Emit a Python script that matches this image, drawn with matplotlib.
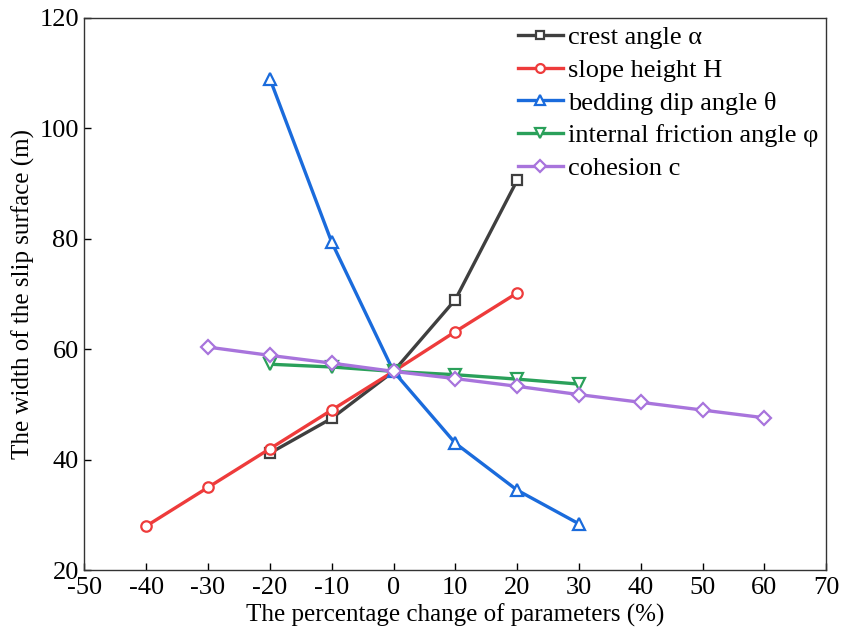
import matplotlib

matplotlib.use("Agg")

import matplotlib.pyplot as plt

# percentage change of each parameter (%)
crest_x = [-20, -10, 0, 10, 20]
crest_y = [41.2, 47.5, 56.0, 69.0, 90.6]

height_x = [-40, -30, -20, -10, 0, 10, 20]
height_y = [28.0, 35.0, 42.0, 49.0, 56.0, 63.2, 70.2]

dip_x = [-20, -10, 0, 10, 20, 30]
dip_y = [109.0, 79.4, 56.0, 43.0, 34.5, 28.4]

friction_x = [-20, -10, 0, 10, 20, 30]
friction_y = [57.3, 56.8, 56.0, 55.4, 54.6, 53.7]

cohesion_x = [-30, -20, -10, 0, 10, 20, 30, 40, 50, 60]
cohesion_y = [60.4, 58.9, 57.5, 56.0, 54.7, 53.3, 51.8, 50.4, 49.0, 47.6]

plt.rcParams["font.family"] = ["Liberation Serif", "DejaVu Serif"]
plt.rcParams["axes.unicode_minus"] = False

fig, ax = plt.subplots(figsize=(8.44, 6.40), dpi=100)
fig.subplots_adjust(left=0.1, right=0.979, top=0.972, bottom=0.109)

style = dict(linewidth=2.4, markersize=7.5, markerfacecolor="white", markeredgewidth=1.6)
ax.plot(crest_x, crest_y, marker="s", color="#3f3f3f", label="crest angle α", **style)
ax.plot(height_x, height_y, marker="o", color="#ee3b3b", label="slope height H", **style)
ax.plot(dip_x, dip_y, marker="^", color="#1a6bdc", label="bedding dip angle θ", **dict(style, markersize=9))
ax.plot(friction_x, friction_y, marker="v", color="#2aa05a", label="internal friction angle φ", **dict(style, markersize=9))
ax.plot(cohesion_x, cohesion_y, marker="D", color="#a874dc", label="cohesion c", **dict(style, markersize=7))

ax.set_xlim(-50, 70)
ax.set_ylim(20, 120)
ax.set_xticks(range(-50, 71, 10))
ax.set_yticks(range(20, 121, 20))
ax.tick_params(direction="in", labelsize=19, length=5, width=1.0, top=False, right=False)
ax.tick_params(axis="x", pad=5)
ax.tick_params(axis="y", pad=4)
for spine in ax.spines.values():
    spine.set_linewidth(1.0)
    spine.set_color("#333333")

ax.set_xlabel("The percentage change of parameters (%)", fontsize=18, labelpad=3)
ax.set_ylabel("The width of the slip surface (m)", fontsize=18, labelpad=3)

ax.legend(loc="upper right", frameon=False, fontsize=19, handlelength=1.7,
          handletextpad=0.2, labelspacing=0.35, borderaxespad=0.3, borderpad=0.0,
          markerscale=0.85)

fig.savefig("out.png", dpi=100)
